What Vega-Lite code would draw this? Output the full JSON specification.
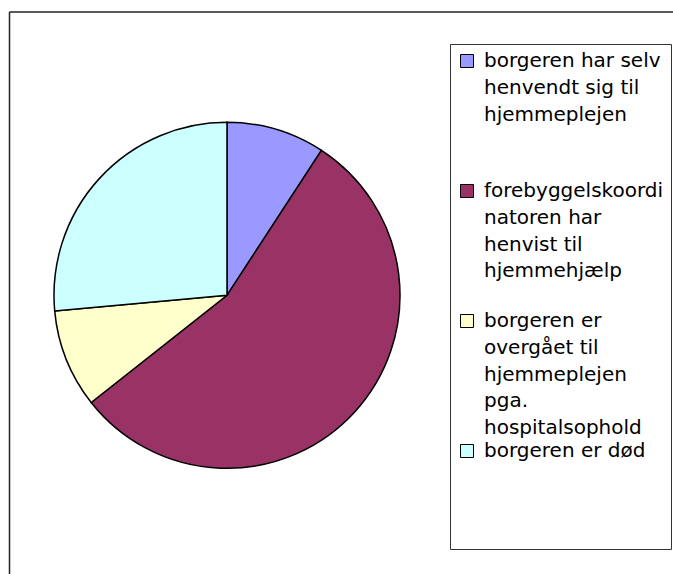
{
  "$schema": "https://vega.github.io/schema/vega-lite/v6.json",
  "width": 664,
  "height": 562,
  "autosize": {"type": "none"},
  "padding": {"left": 9, "top": 11.5, "right": 0, "bottom": 0},
  "background": "white",
  "config": {
    "view": {"stroke": null},
    "style": {"guide-label": {"lineHeight": 26.8}}
  },
  "data": {
    "values": [
      {"kategori": "borgeren har selv\nhenvendt sig til\nhjemmeplejen", "antal": 8, "orden": 1},
      {"kategori": "forebyggelskoordi\nnatoren har\nhenvist til\nhjemmehjælp", "antal": 48, "orden": 2},
      {"kategori": "borgeren er\novergået til\nhjemmeplejen\npga.\nhospitalsophold", "antal": 8, "orden": 3},
      {"kategori": "borgeren er død", "antal": 23, "orden": 4}
    ]
  },
  "mark": {"type": "arc", "radius": 173, "stroke": "black", "strokeWidth": 1.5},
  "encoding": {
    "theta": {"field": "antal", "type": "quantitative", "stack": true},
    "order": {"field": "orden", "type": "quantitative"},
    "x": {
      "datum": 0.3283,
      "type": "quantitative",
      "scale": {"domain": [0, 1]},
      "axis": {"orient": "top", "domain": true, "domainColor": "#222", "domainWidth": 1.5, "ticks": false, "labels": false, "grid": false, "title": null}
    },
    "y": {
      "datum": 0.505,
      "type": "quantitative",
      "scale": {"domain": [0, 1], "reverse": true},
      "axis": {"orient": "left", "domain": true, "domainColor": "#222", "domainWidth": 1.5, "ticks": false, "labels": false, "grid": false, "title": null}
    },
    "fill": {
      "field": "kategori",
      "type": "nominal",
      "scale": {
        "domain": [
          "borgeren har selv\nhenvendt sig til\nhjemmeplejen",
          "forebyggelskoordi\nnatoren har\nhenvist til\nhjemmehjælp",
          "borgeren er\novergået til\nhjemmeplejen\npga.\nhospitalsophold",
          "borgeren er død"
        ],
        "range": ["#9999FF", "#993366", "#FFFFCC", "#CCFFFF"]
      },
      "legend": {
        "orient": "none",
        "legendX": 441,
        "legendY": 32.5,
        "title": null,
        "padding": 7,
        "strokeColor": "#333",
        "fillColor": "white",
        "symbolType": "square",
        "symbolSize": 169,
        "symbolStrokeColor": "black",
        "symbolStrokeWidth": 1,
        "symbolOpacity": 1,
        "labelFont": "DejaVu Sans",
        "labelFontSize": 20,
        "labelColor": "black",
        "labelLimit": 400,
        "labelOffset": 7,
        "labelBaseline": "middle",
        "rowPadding": 2,
        "labelExpr": "slice(split(datum.label + '\\n\\n\\n\\n', '\\n'), 0, datum.value == 'borgeren er død' ? 4 : 5)"
      }
    }
  }
}
